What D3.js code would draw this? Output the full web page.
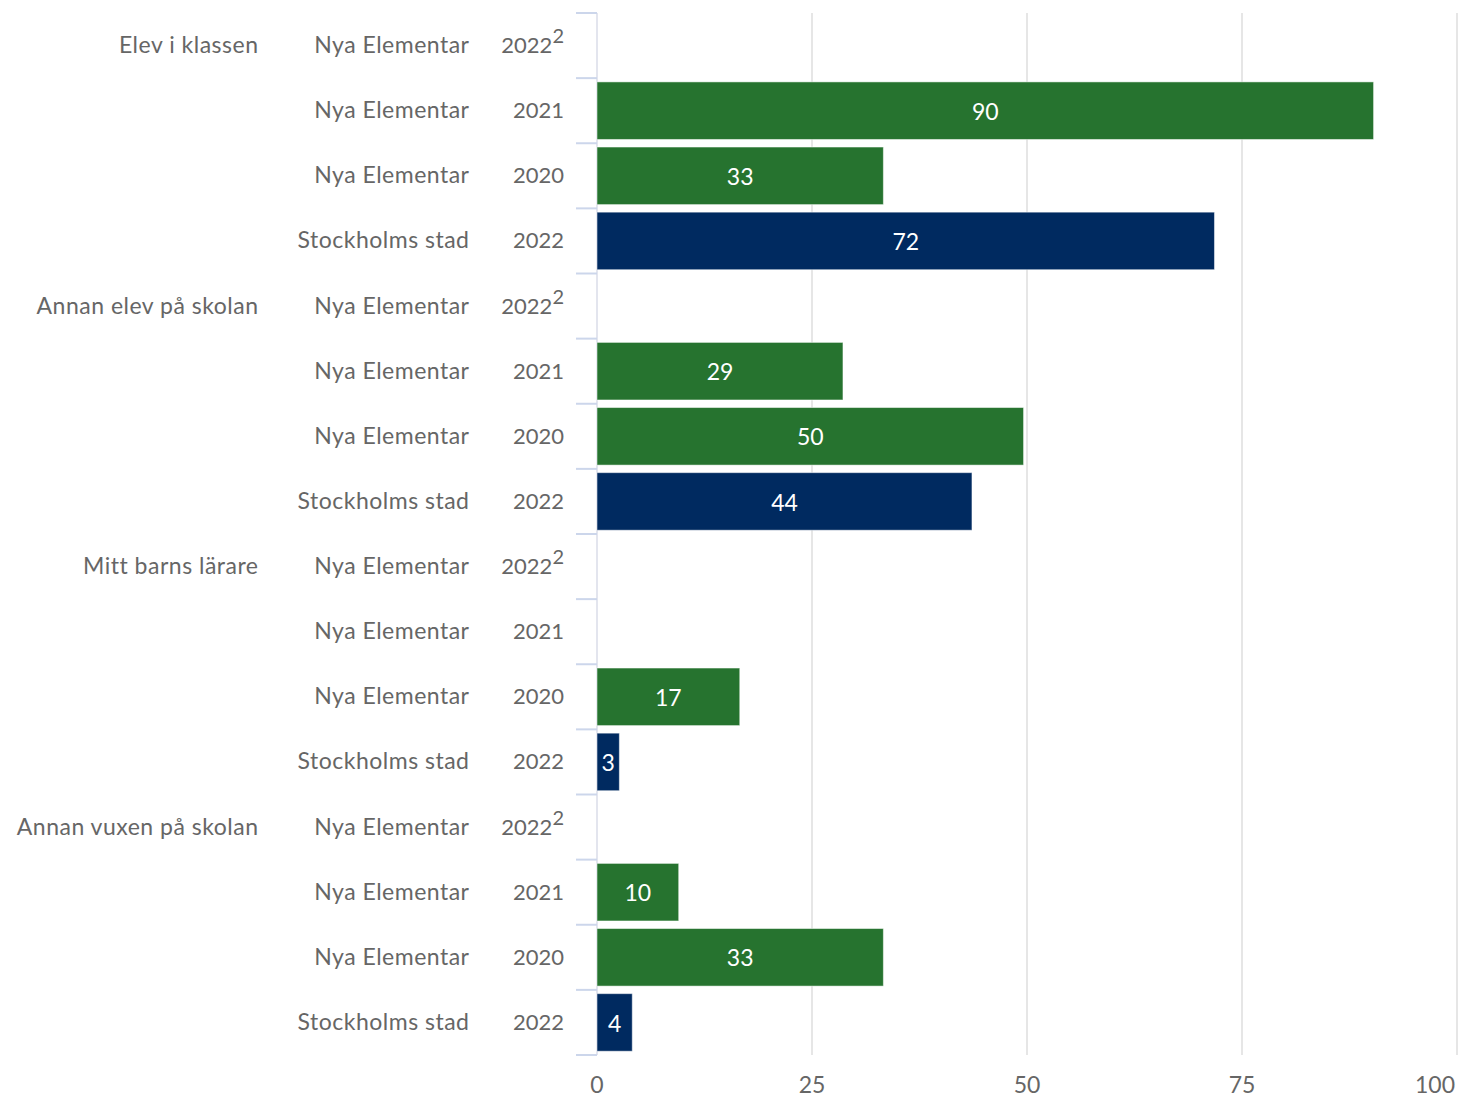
<!DOCTYPE html>
<html>
<head>
<meta charset="utf-8">
<script src="https://cdn.jsdelivr.net/npm/d3@7"></script>
<style>
  body { margin: 0; background: #fff; }
  svg text { font-family: "Lato", "Open Sans", sans-serif; }
</style>
</head>
<body>
<div id="chart"></div>
<script>
// data
const groups = ["Elev i klassen", "Annan elev på skolan", "Mitt barns lärare", "Annan vuxen på skolan"];
const units = ["Nya Elementar", "Nya Elementar", "Nya Elementar", "Stockholms stad"];
const years = ["2022", "2021", "2020", "2022"];
const notes = ["2", "", "", ""];
const values = [
  [null, 90.3, 33.3, 71.8],
  [null, 28.6, 49.6, 43.6],
  [null, null, 16.6, 2.6],
  [null, 9.5, 33.3, 4.1]
];
const xTicks = [0, 25, 50, 75, 100];

const W = 1459, H = 1098;
const plot = {left: 597, right: 1457, top: 13, bottom: 1055};

// flatten to one row per bar
const rows = [];
groups.forEach((g, gi) => {
  units.forEach((u, ui) => {
    rows.push({group: g, first: ui === 0, unit: u, year: years[ui], note: notes[ui],
               value: values[gi][ui], city: u === "Stockholms stad", id: gi * units.length + ui});
  });
});

const svg = d3.select('#chart')
  .append('svg')
  .attr('width', W)
  .attr('height', H);

const xScale = d3.scaleLinear()
  .domain([0, 100])
  .range([plot.left, plot.right]);

const yScale = d3.scaleBand()
  .domain(rows.map(d => d.id))
  .range([plot.top, plot.bottom])
  .padding(0);

const pad = yScale.bandwidth() * 0.058;

// vertical grid lines
svg.append('g')
  .selectAll('line')
  .data(xTicks.slice(1))
  .enter()
  .append('line')
  .attr('x1', d => xScale(d)).attr('x2', d => xScale(d))
  .attr('y1', plot.top).attr('y2', plot.bottom)
  .attr('stroke', '#e6e6e6')
  .attr('stroke-width', 2);

// axis line
svg.append('line')
  .attr('x1', xScale(0)).attr('x2', xScale(0))
  .attr('y1', plot.top).attr('y2', plot.bottom)
  .attr('stroke', '#e3e5ee')
  .attr('stroke-width', 2);

// tick marks between categories
const bounds = rows.map(d => yScale(d.id)).concat([yScale(rows[rows.length - 1].id) + yScale.bandwidth()]);
svg.append('g')
  .selectAll('line')
  .data(bounds)
  .enter()
  .append('line')
  .attr('x1', xScale(0) - 21).attr('x2', xScale(0))
  .attr('y1', d => d).attr('y2', d => d)
  .attr('stroke', '#ccd6eb')
  .attr('stroke-width', 2);

// bars
const bars = rows.filter(d => d.value != null);
svg.append('g')
  .selectAll('rect')
  .data(bars)
  .enter()
  .append('rect')
  .attr('x', xScale(0))
  .attr('y', d => yScale(d.id) + pad)
  .attr('width', d => xScale(d.value) - xScale(0))
  .attr('height', yScale.bandwidth() - 2 * pad)
  .attr('fill', d => d.city ? '#002a60' : '#26732f')
  .attr('stroke', 'rgba(255,255,255,0.5)')
  .attr('stroke-width', 1);

// bar value labels
svg.append('g')
  .selectAll('text')
  .data(bars)
  .enter()
  .append('text')
  .attr('x', d => (xScale(0) + xScale(d.value)) / 2)
  .attr('y', d => yScale(d.id) + yScale.bandwidth() / 2 + 1.5)
  .attr('dy', '0.33em')
  .attr('text-anchor', 'middle')
  .attr('font-size', 23)
  .attr('fill', '#fff')
  .text(d => Math.round(d.value));

// category labels: three columns
const labels = svg.append('g')
  .attr('font-size', 23)
  .attr('fill', '#666');

const cy = d => yScale(d.id) + yScale.bandwidth() / 2 + 1;

labels.selectAll('.grp')
  .data(rows.filter(d => d.first))
  .enter()
  .append('text')
  .attr('class', 'grp')
  .attr('x', 258.5)
  .attr('y', cy)
  .attr('dy', '0.28em')
  .attr('letter-spacing', 0.5)
  .attr('text-anchor', 'end')
  .text(d => d.group);

labels.selectAll('.unit')
  .data(rows)
  .enter()
  .append('text')
  .attr('class', 'unit')
  .attr('x', 469.5)
  .attr('y', cy)
  .attr('dy', '0.28em')
  .attr('letter-spacing', 0.5)
  .attr('text-anchor', 'end')
  .text(d => d.unit);

const yr = labels.selectAll('.year')
  .data(rows)
  .enter()
  .append('text')
  .attr('class', 'year')
  .attr('x', 564)
  .attr('y', d => cy(d) + 6.5)
  .attr('font-size', 22)
  .attr('text-anchor', 'end');

yr.append('tspan').text(d => d.year);
yr.filter(d => d.note)
  .append('tspan')
  .attr('dy', -10)
  .attr('font-size', 20)
  .text(d => d.note);

// x axis labels
svg.append('g')
  .attr('font-size', 23)
  .attr('fill', '#666')
  .selectAll('text')
  .data(xTicks)
  .enter()
  .append('text')
  .attr('x', d => d === 100 ? xScale(d) - 2 : xScale(d))
  .attr('y', 1093)
  .attr('text-anchor', d => d === 100 ? 'end' : 'middle')
  .text(d => d);
</script>
</body>
</html>
